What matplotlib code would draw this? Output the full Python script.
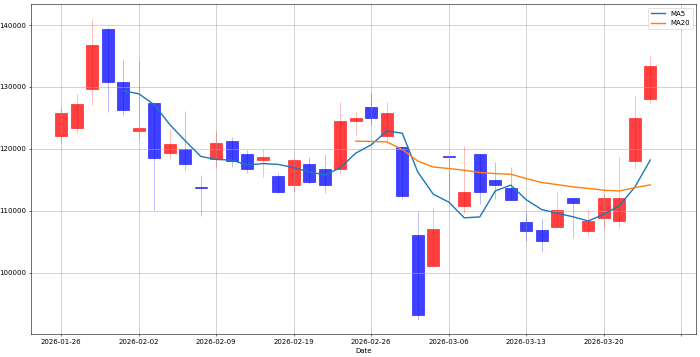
import numpy as np
import pandas as pd
import matplotlib
matplotlib.use('Agg')
import matplotlib.pyplot as plt
from matplotlib.ticker import FuncFormatter, MultipleLocator

# trading days (KRX calendar, holidays skipped)
dates = ['2026-01-26', '2026-01-27', '2026-01-28', '2026-01-29', '2026-01-30',
         '2026-02-02', '2026-02-03', '2026-02-04', '2026-02-05', '2026-02-06',
         '2026-02-09', '2026-02-10', '2026-02-11', '2026-02-12', '2026-02-13',
         '2026-02-19', '2026-02-20', '2026-02-23', '2026-02-24', '2026-02-25',
         '2026-02-26', '2026-02-27', '2026-03-03', '2026-03-04', '2026-03-05',
         '2026-03-06', '2026-03-09', '2026-03-10', '2026-03-11', '2026-03-12',
         '2026-03-13', '2026-03-16', '2026-03-17', '2026-03-18', '2026-03-19',
         '2026-03-20', '2026-03-23', '2026-03-24', '2026-03-25']

opens = [122100, 123400, 129700, 139300, 130750, 122850, 127400, 119400, 119990, 113850,
         118430, 121230, 119180, 118160, 115630, 114130, 117620, 116710, 116710, 124560,
         126820, 122090, 120310, 106060, 101160, 118910, 110850, 119180, 115040, 113750,
         108160, 106970, 107400, 112140, 106760, 108910, 108370, 118050, 128060]
highs = [126820, 128870, 140970, 139730, 134460, 134190, 127410, 123160, 126120, 115850,
         122900, 121980, 119830, 119990, 116060, 118500, 118750, 119180, 127580, 126120,
         129030, 127580, 120500, 109770, 110580, 118910, 120530, 119180, 117950, 117140,
         109720, 108910, 113050, 112140, 110310, 112680, 118750, 128540, 135000]
lows = [120800, 122630, 127140, 126020, 125320, 121550, 110150, 118430, 116600, 109180,
        117030, 117030, 116170, 115530, 112940, 113050, 114340, 112940, 115960, 122200,
        123810, 121170, 111980, 92400, 101100, 111490, 109610, 111110, 111920, 111760,
        105200, 103420, 107400, 105570, 106060, 107190, 107190, 116820, 127200]
closes = [125850, 127250, 136830, 130750, 126280, 123380, 118480, 120740, 117570, 113750,
          120900, 118000, 116710, 118750, 113100, 118270, 114610, 114130, 124560, 124990,
          124990, 125750, 112400, 93200, 107030, 118640, 113050, 113100, 114180, 111760,
          106810, 105140, 110150, 111330, 108370, 112140, 112140, 125050, 133330]

df = pd.DataFrame({'Open': opens, 'High': highs, 'Low': lows, 'Close': closes},
                  index=pd.to_datetime(dates))
df['MA5'] = df['Close'].rolling(5).mean()
df['MA20'] = df['Close'].rolling(20).mean()

x = np.arange(len(df))
up = df['Close'] > df['Open']
colors = np.where(up, 'red', 'blue')

fig = plt.figure(figsize=(14, 7.14), dpi=50)
ax = fig.add_axes([0.0443, 0.0644, 0.95, 0.9236])

# wicks
ax.vlines(x, df['Low'], df['High'], color=colors, linewidth=1.2, alpha=0.3)
# bodies
ax.bar(x, df['Close'] - df['Open'], bottom=df['Open'], width=0.8,
       color=colors, edgecolor=colors, linewidth=1, alpha=0.75)

ax.plot(x, df['MA5'], label='MA5', linewidth=2)
ax.plot(x, df['MA20'], label='MA20', linewidth=2)

ax.xaxis.set_major_locator(MultipleLocator(5))
ax.xaxis.set_major_formatter(FuncFormatter(
    lambda v, pos: dates[int(v)] if 0 <= int(v) < len(dates) else ''))
ax.set_xlim(-1.95, 40.95)
ax.set_ylim(90100, 143350)
ax.set_xlabel('Date')
ax.grid(True)
ax.legend(loc='upper right')

fig.savefig('out.png', dpi=50)
